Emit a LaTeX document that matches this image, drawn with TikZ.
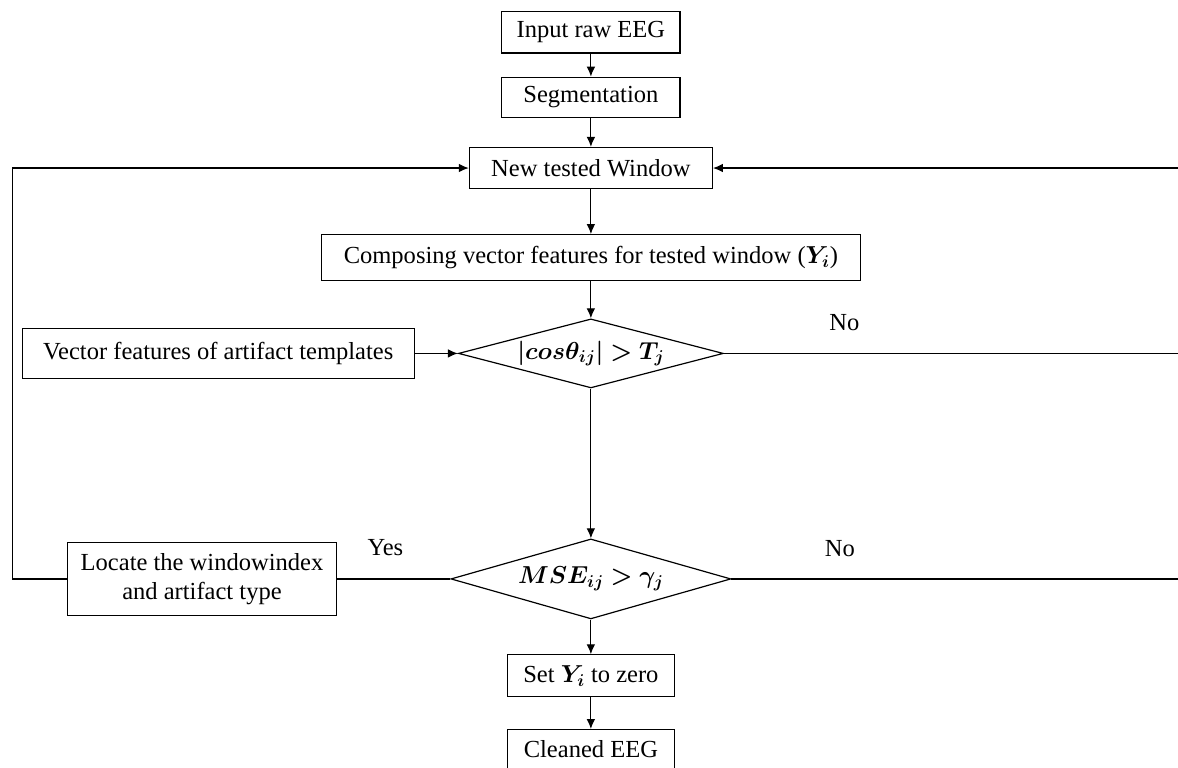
\documentclass[tikz,border=0pt]{standalone}
\usepackage{fix-cm}
\usepackage{amsmath}
\usepackage{bm}
\usepackage{fontspec}
\setmainfont{Liberation Serif}
\usetikzlibrary{arrows.meta,positioning,shapes.geometric}

\begin{document}
\begin{tikzpicture}[>={Latex[length=7.5pt,width=6.5pt]}, line width=0.9pt, every node/.style={font=\fontsize{18.5}{22}\selectfont}]
\useasboundingbox (0,0) rectangle (31.22,-20.33);
\node[draw, minimum width=4.72cm, minimum height=1.09cm] (in) at (15.66,-0.86) {Input raw EEG};
\node[draw, minimum width=4.72cm, minimum height=1.06cm, below=0.61cm of in] (seg) {Segmentation};
\node[draw, minimum width=6.44cm, minimum height=1.09cm, below=0.77cm of seg] (win) {New tested Window};
\node[draw, minimum width=14.28cm, minimum height=1.22cm, below=1.19cm of win] (comp) {Composing vector features for tested window ($\bm{Y_i}$)};
\node[draw, diamond, aspect=3.8, inner sep=0pt, minimum width=7.02cm, minimum height=1.83cm, below=0.98cm of comp] (cos) {$\bm{\left|cos\theta_{ij}\right| > T_j}$};
\node[draw, minimum width=10.39cm, minimum height=1.33cm, left=1.14cm of cos] (tmpl) {Vector features of artifact templates};
\node[draw, diamond, aspect=3.5, inner sep=0pt, minimum width=7.42cm, minimum height=2.12cm, below=3.97cm of cos] (mse) {$\bm{MSE_{ij} > \gamma_j}$};
\node[draw, minimum width=7.13cm, minimum height=1.93cm, align=center, left=3.0cm of mse] (loc) {Locate the windowindex\\and artifact type};
\node[draw, minimum width=4.43cm, minimum height=1.11cm, below=0.92cm of mse] (zero) {Set $\bm{Y_i}$ to zero};
\node[draw, minimum width=4.43cm, minimum height=1.06cm, below=0.84cm of zero] (clean) {Cleaned EEG};
\node[inner sep=0pt, anchor=south west, above right=0.58cm and 2.78cm of cos.east] (no1) {No};
\node[inner sep=0pt, anchor=south west, above right=0.58cm and 2.46cm of mse.east] (no2) {No};
\node[inner sep=0pt, anchor=south west, above right=0.61cm and 0.79cm of loc.east] (yes) {Yes};
\coordinate[left=1.45cm of loc.west] (lrail);
\coordinate[right=12.04cm of cos.east] (rrail);

\draw[->] (in) -- (seg);
\draw[->] (seg) -- (win);
\draw[->] (win) -- (comp);
\draw[->] (comp) -- (cos);
\draw[->] (tmpl) -- (cos);
\draw[->] (cos) -- (mse);
\draw[->] (mse) -- (zero);
\draw[->] (zero) -- (clean);
\draw (mse.west) -- (loc.east);
\draw[->] (loc.west) -- (lrail) |- (win.west);
\draw (cos.east) -- (rrail);
\draw (mse.east) -| (rrail);
\draw[->] (rrail) |- (win.east);
\end{tikzpicture}
\end{document}
